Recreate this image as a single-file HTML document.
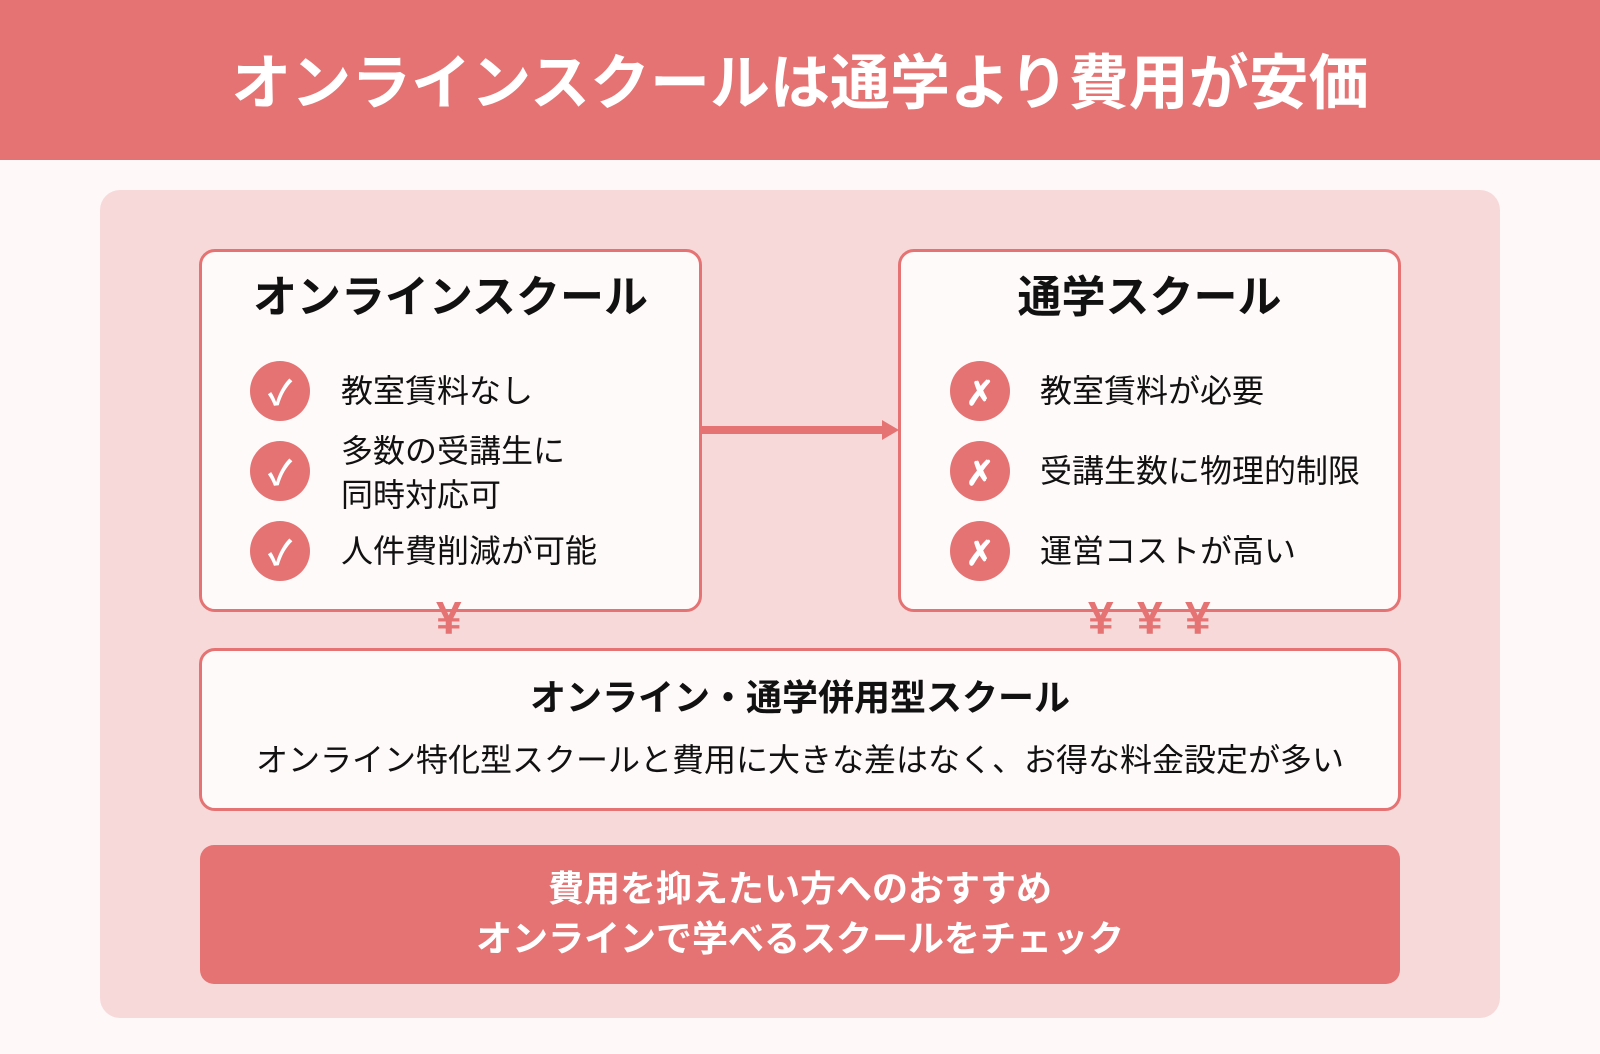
<!DOCTYPE html>
<html><head><meta charset="utf-8"><style>
*{margin:0;padding:0;box-sizing:border-box}
body{width:1600px;height:1054px;background:#fff8f8;position:relative;overflow:hidden;font-family:"Liberation Sans","Noto Sans CJK JP",sans-serif;color:#111}
.a{position:absolute}
.hdr{left:0;top:0;width:1600px;height:160px;background:#e57373;color:#fff;font-weight:bold;font-size:60px;text-align:center;line-height:168px}
.panel{left:100px;top:190px;width:1400px;height:828px;background:#f7d9da;border-radius:20px}
.box{border:3px solid #e57373;background:#fffafa;border-radius:16px}
.t{font-size:44px;font-weight:bold;text-align:center;width:100%}
.c{width:60px;height:60px;border-radius:50%;background:#e57373;color:#fff;font-size:34px;font-weight:bold;text-align:center;line-height:66px}
.li{font-size:32px;line-height:44px;white-space:nowrap}
.yen{color:#e57373;font-weight:bold;font-size:46px;line-height:44px}
</style></head><body>
<div class="a hdr">オンラインスクールは通学より費用が安価</div>
<div class="a panel"></div>
<div class="a box" style="left:199px;top:249px;width:503px;height:363px"></div>
<div class="a box" style="left:898px;top:249px;width:503px;height:363px"></div>
<div class="a t" style="left:199px;top:272px;width:503px;line-height:52px">オンラインスクール</div>
<div class="a t" style="left:898px;top:272px;width:503px;line-height:52px">通学スクール</div>
<div class="a" style="left:702px;top:426px;width:182px;height:8px;background:#e57373"></div>
<svg class="a" style="left:880px;top:420px" width="20" height="20"><polygon points="2,0 19,10 2,20" fill="#e57373"/></svg>
<div class="a c" style="left:250px;top:361px">✓</div>
<div class="a c" style="left:250px;top:441px">✓</div>
<div class="a c" style="left:250px;top:521px">✓</div>
<div class="a li" style="left:341px;top:369px">教室賃料なし</div>
<div class="a li" style="left:341px;top:429px">多数の受講生に<br>同時対応可</div>
<div class="a li" style="left:341px;top:529px">人件費削減が可能</div>
<div class="a c" style="left:950px;top:361px">✗</div>
<div class="a c" style="left:950px;top:441px">✗</div>
<div class="a c" style="left:950px;top:521px">✗</div>
<div class="a li" style="left:1040px;top:369px">教室賃料が必要</div>
<div class="a li" style="left:1040px;top:449px">受講生数に物理的制限</div>
<div class="a li" style="left:1040px;top:529px">運営コストが高い</div>
<div class="a box" style="left:199px;top:648px;width:1202px;height:163px"></div>
<div class="a yen" style="left:436px;top:596px">¥</div>
<div class="a yen" style="left:1088px;top:596px">¥</div>
<div class="a yen" style="left:1137px;top:596px">¥</div>
<div class="a yen" style="left:1185px;top:596px">¥</div>
<div class="a" style="left:199px;top:675px;width:1202px;text-align:center;font-size:36px;font-weight:bold;line-height:46px">オンライン・通学併用型スクール</div>
<div class="a" style="left:199px;top:740px;width:1202px;text-align:center;font-size:32px;line-height:40px">オンライン特化型スクールと費用に大きな差はなく、お得な料金設定が多い</div>
<div class="a" style="left:200px;top:845px;width:1200px;height:139px;background:#e57373;border-radius:14px;color:#fff;font-weight:bold;font-size:36px;text-align:center;line-height:50px;padding-top:19px">費用を抑えたい方へのおすすめ<br>オンラインで学べるスクールをチェック</div>
</body></html>
